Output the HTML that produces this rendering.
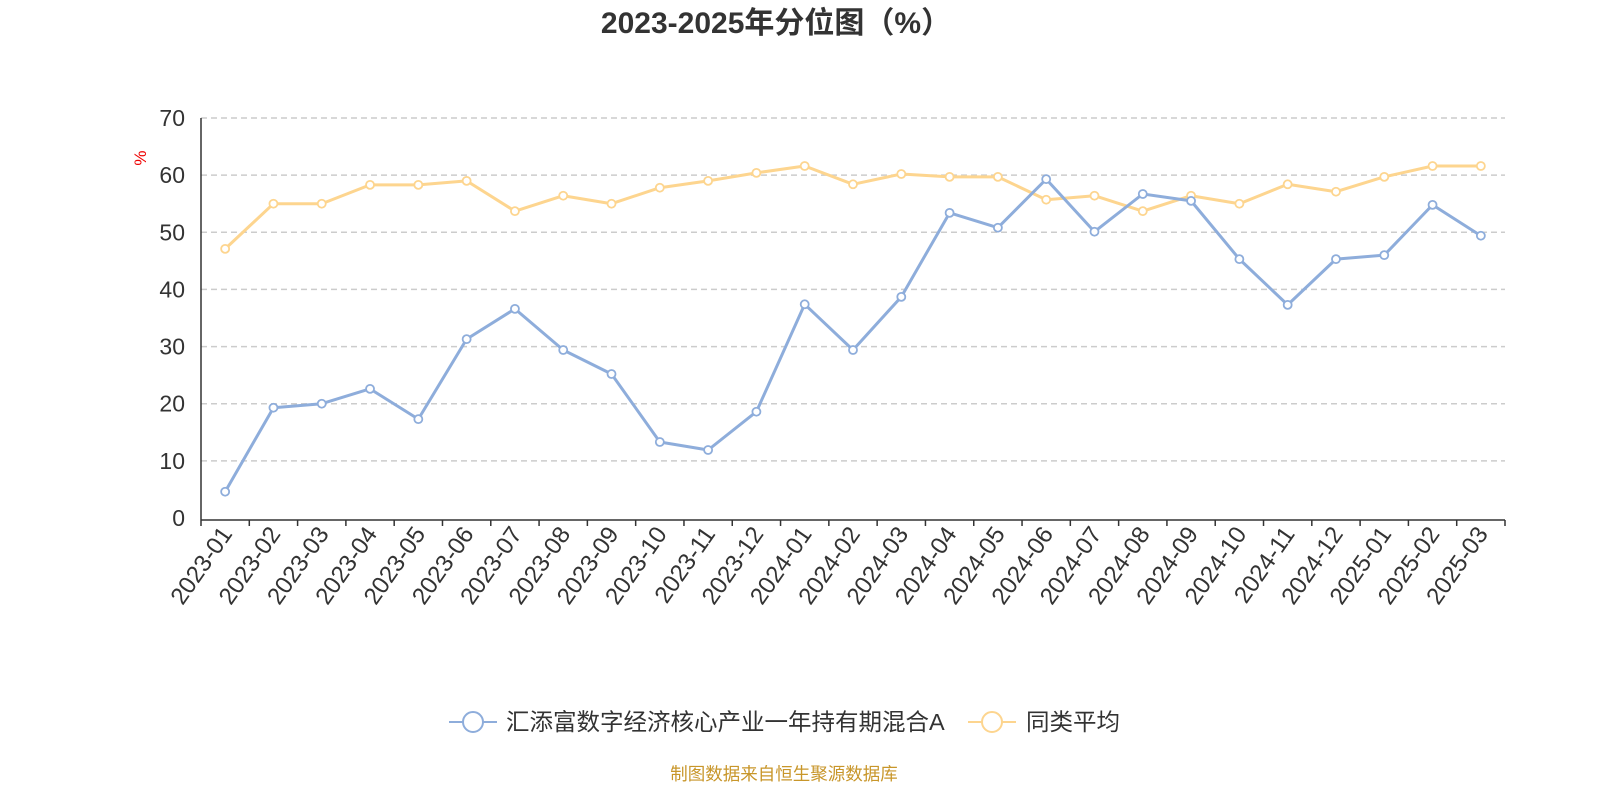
<!DOCTYPE html>
<html><head><meta charset="utf-8"><style>
body{margin:0;background:#fff;}
svg{display:block;font-family:"Liberation Sans","Noto Sans CJK SC",sans-serif;}
</style></head><body>
<svg id="chart" width="1600" height="800">
<text x="776" y="33" text-anchor="middle" font-size="30" font-weight="bold" fill="#333">2023-2025年分位图（%）</text>
<text x="0" y="0" transform="translate(146,158) rotate(-90)" text-anchor="middle" font-size="17" fill="#e00">%</text>
<g id="grid"></g><g id="xaxis"></g><g id="series"></g>
<g>
<g>
<line x1="449" y1="722" x2="497" y2="722" stroke="#8eaddb" stroke-width="2"/><circle cx="473" cy="722" r="10" fill="#fff" stroke="#8eaddb" stroke-width="2"/>
<text x="506" y="730" font-size="23.5" fill="#333">汇添富数字经济核心产业一年持有期混合A</text></g>
<g>
<line x1="968" y1="722" x2="1016" y2="722" stroke="#fdd58f" stroke-width="2"/><circle cx="992" cy="722" r="10" fill="#fff" stroke="#fdd58f" stroke-width="2"/>
<text x="1026" y="730" font-size="23.5" fill="#333">同类平均</text></g>
</g>
<text x="784" y="780" text-anchor="middle" font-size="17.5" fill="#c8962a">制图数据来自恒生聚源数据库</text>
</svg>
<script>
const categories=["2023-01","2023-02","2023-03","2023-04","2023-05","2023-06","2023-07","2023-08","2023-09","2023-10","2023-11","2023-12","2024-01","2024-02","2024-03","2024-04","2024-05","2024-06","2024-07","2024-08","2024-09","2024-10","2024-11","2024-12","2025-01","2025-02","2025-03"];
const fundValues=[4.6,19.3,20.0,22.6,17.3,31.3,36.6,29.4,25.2,13.3,11.9,18.6,37.4,29.4,38.7,53.4,50.8,59.3,50.1,56.7,55.5,45.3,37.3,45.3,46.0,54.8,49.4];
const avgValues=[47.1,55.0,55.0,58.3,58.3,59.0,53.7,56.4,55.0,57.8,59.0,60.4,61.6,58.4,60.2,59.7,59.7,55.7,56.4,53.7,56.4,55.0,58.4,57.1,59.7,61.6,61.6];
const yTicks=[0,10,20,30,40,50,60,70];
const NS="http://www.w3.org/2000/svg";
const L=201,R=1505,T=118,B=518,YMAX=70;
const bw=(R-L)/categories.length;
const xs=i=>L+bw*(i+0.5);
const ys=v=>B-(v/YMAX)*(B-T);
function mk(tag,attrs,parent){const e=document.createElementNS(NS,tag);for(const k in attrs)e.setAttribute(k,attrs[k]);parent.appendChild(e);return e;}
const grid=document.getElementById('grid'),xa=document.getElementById('xaxis'),ser=document.getElementById('series');
yTicks.forEach(t=>{
 if(t>0){const g=mk('line',{x1:L,x2:R,y1:ys(t),y2:ys(t),stroke:'#ccc','stroke-dasharray':'6,4','stroke-width':1.5},grid);
 
 }
 const tx=mk('text',{x:185,y:ys(t)+8,'text-anchor':'end','font-size':23,fill:'#333'},grid);
 tx.textContent=t;
 
 
});
const ya=mk('line',{x1:L,x2:L,y1:T,y2:B+2,stroke:'#333','stroke-width':1.5},grid);


const xl=mk('line',{x1:L,x2:R,y1:B+2,y2:B+2,stroke:'#333','stroke-width':1.5},xa);


for(let i=0;i<=categories.length;i++){mk('line',{x1:L+bw*i,x2:L+bw*i,y1:B+2,y2:B+8,stroke:'#333','stroke-width':1.5},xa);}
categories.forEach((c,i)=>{
 const x=xs(i)+8,y=B+16;
 const t=mk('text',{x:0,y:0,transform:`translate(${x},${y}) rotate(-55)`,'text-anchor':'end','font-size':24,fill:'#333'},xa);
 t.textContent=c;
 
 
});
function drawSeries(vals,color,name){
 const g=mk('g',{},ser);
 
 
 const p=mk('polyline',{points:vals.map((v,i)=>xs(i)+','+ys(v)).join(' '),fill:'none',stroke:color,'stroke-width':3,'stroke-linejoin':'round'},g);
 
 
 vals.forEach((v,i)=>{const c=mk('circle',{cx:xs(i),cy:ys(v),r:4,fill:'#fff',stroke:color,'stroke-width':1.8},g);
 
 });
}
drawSeries(avgValues,'#fdd58f','average-series');
drawSeries(fundValues,'#8eaddb','fund-series');
</script>
</body></html>
